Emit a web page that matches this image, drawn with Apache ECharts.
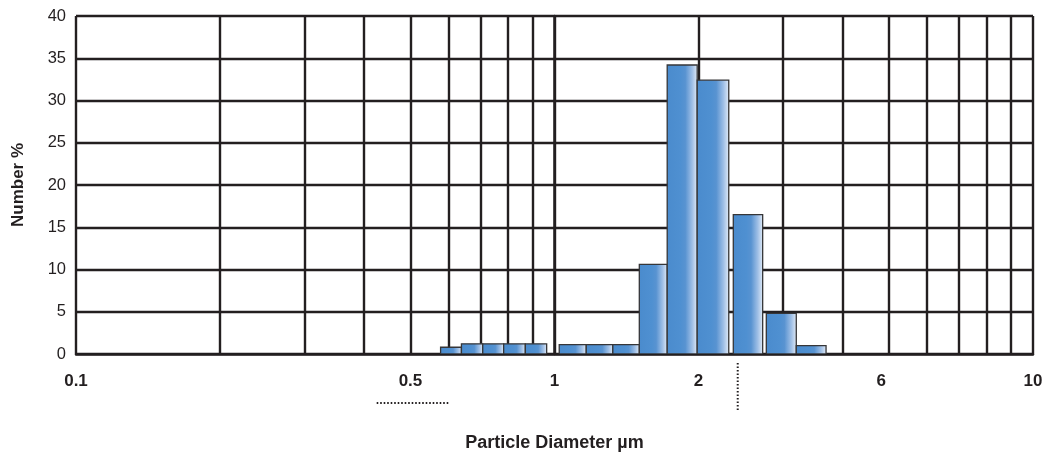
<!DOCTYPE html>
<html>
<head>
<meta charset="utf-8">
<script src="https://cdn.jsdelivr.net/npm/echarts@6/dist/echarts.min.js"></script>
<style>
html,body{margin:0;padding:0;background:#fff;}
#chart{width:1047px;height:458px;}
</style>
</head>
<body>
<div id="chart"></div>
<script>
// Histogram bins (particle diameter, µm) and values (Number %)
const binLower = [0.578, 0.639, 0.708, 0.783, 0.869, 1.023, 1.165, 1.324, 1.504, 1.720, 1.987, 2.364, 2.771, 3.201];
const binUpper = [0.639, 0.708, 0.783, 0.869, 0.963, 1.165, 1.324, 1.504, 1.720, 1.987, 2.313, 2.723, 3.201, 3.694];
const numberPct = [0.8, 1.2, 1.2, 1.2, 1.2, 1.1, 1.1, 1.1, 10.6, 34.2, 32.4, 16.5, 4.8, 1.0];

// Axis grid values and tick labels
const xGridValues = [0.1, 0.2, 0.3, 0.4, 0.5, 0.6, 0.7, 0.8, 0.9, 1, 2, 3, 4, 5, 6, 7, 8, 9, 10];
const xLabelValues = [0.1, 0.5, 1, 2, 4.82, 10];
const xLabelTexts = ['0.1', '0.5', '1', '2', '6', '10'];
const yTicks = [0, 5, 10, 15, 20, 25, 30, 35, 40];

const lg = v => Math.log10(v);
const ink = '#231f20';
const font = '"Liberation Sans", Arial, Helvetica, sans-serif';

const barData = numberPct.map((v, i) => [lg(binLower[i]), lg(binUpper[i]), v]);
const labelMap = {};
xLabelValues.forEach((v, i) => { labelMap[lg(v).toFixed(4)] = xLabelTexts[i]; });

const chart = echarts.init(document.getElementById('chart'), null, {renderer: 'canvas'});

const barFill = new echarts.graphic.LinearGradient(0, 0, 1, 0, [
  {offset: 0, color: '#4a8bcd'},
  {offset: 0.45, color: '#4f90d1'},
  {offset: 0.6, color: '#5893d1'},
  {offset: 0.82, color: '#9fbfe6'},
  {offset: 1, color: '#e6eef8'}
]);

chart.setOption({
  animation: false,
  grid: {left: 76, right: 14, top: 16, bottom: 104, containLabel: false, outerBoundsMode: 'none'},
  xAxis: {
    type: 'value',
    min: -1,
    max: 1,
    name: 'Particle Diameter µm',
    nameLocation: 'middle',
    nameGap: 80,
    nameTextStyle: {fontFamily: font, fontWeight: 'bold', fontSize: 18, color: ink},
    axisLine: {show: true, onZero: false, lineStyle: {color: ink, width: 2.5}},
    axisTick: {show: false, customValues: xGridValues.map(lg)},
    splitLine: {show: true, lineStyle: {color: ink, width: 2.4}},
    axisLabel: {
      show: true,
      customValues: xLabelValues.map(lg),
      margin: 19,
      fontFamily: font,
      fontWeight: 'bold',
      fontSize: 17,
      color: ink,
      formatter: v => labelMap[Number(v).toFixed(4)] || ''
    }
  },
  yAxis: {
    type: 'value',
    min: 0,
    max: 40,
    interval: 5,
    name: 'Number %',
    nameLocation: 'middle',
    nameGap: 49,
    nameTextStyle: {fontFamily: font, fontWeight: 'bold', fontSize: 17, color: ink},
    axisLine: {show: true, lineStyle: {color: ink, width: 2.5}},
    axisTick: {show: false},
    splitLine: {show: true, lineStyle: {color: ink, width: 2.4}},
    axisLabel: {
      margin: 10,
      fontFamily: font,
      fontSize: 16.5,
      color: ink,
      formatter: v => (yTicks.indexOf(v) >= 0 ? String(v) : '')
    }
  },
  series: [{
    type: 'custom',
    data: barData,
    encode: {x: [0, 1], y: 2},
    clip: true,
    renderItem: function (params, api) {
      const x0 = api.value(0), x1 = api.value(1), y = api.value(2);
      const p0 = api.coord([x0, y]);
      const p1 = api.coord([x1, 0]);
      return {
        type: 'rect',
        shape: {x: p0[0], y: p0[1], width: p1[0] - p0[0], height: p1[1] - p0[1]},
        style: {fill: barFill, stroke: '#363638', lineWidth: 1.3}
      };
    }
  }]
});

// Dotted annotation marks under the axis (placed via axis scale)
const hStart = chart.convertToPixel({xAxisIndex: 0, yAxisIndex: 0}, [lg(0.425), 0]);
const hEnd = chart.convertToPixel({xAxisIndex: 0, yAxisIndex: 0}, [lg(0.602), 0]);
const vPos = chart.convertToPixel({xAxisIndex: 0, yAxisIndex: 0}, [lg(2.415), 0]);
const base = hStart[1];
chart.setOption({
  graphic: [
    {type: 'line', shape: {x1: hStart[0], y1: base + 49, x2: hEnd[0], y2: base + 49},
     style: {stroke: ink, lineWidth: 2, lineDash: [1.6, 1.9]}},
    {type: 'line', shape: {x1: vPos[0], y1: base + 9, x2: vPos[0], y2: base + 56},
     style: {stroke: ink, lineWidth: 2, lineDash: [1.6, 1.9]}}
  ]
});
</script>
</body>
</html>
